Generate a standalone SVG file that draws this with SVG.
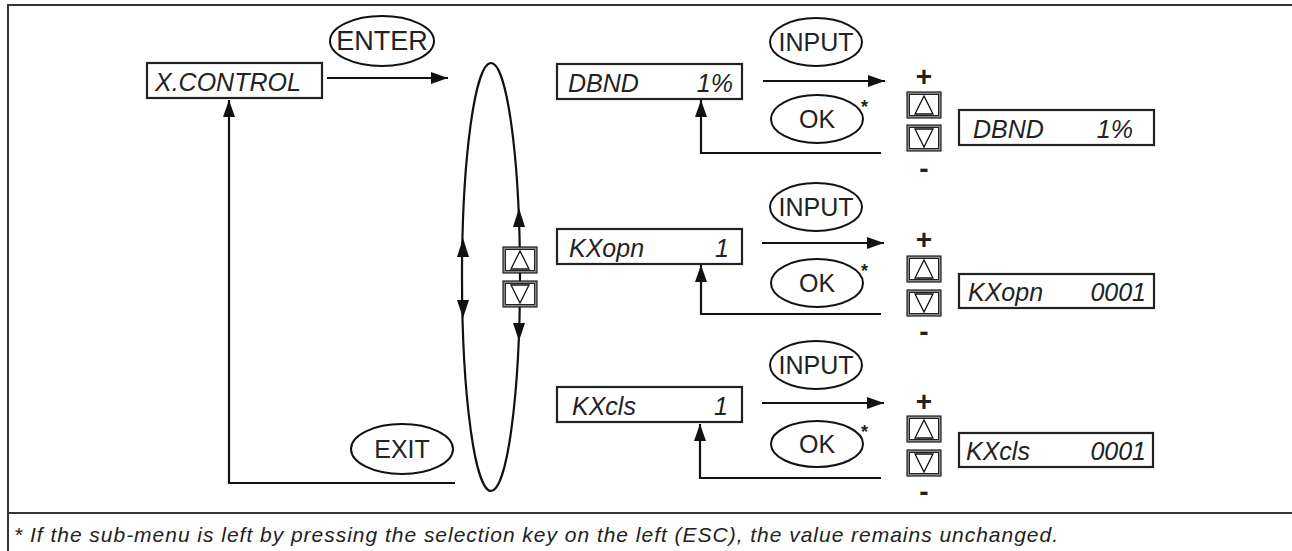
<svg xmlns="http://www.w3.org/2000/svg" width="1292" height="551" viewBox="0 0 1292 551">
<style>
  .frame{stroke:#333;stroke-width:2;fill:none}
  .box{fill:#fff;stroke:#222;stroke-width:2.2}
  .oval{fill:#fff;stroke:#111;stroke-width:2}
  .ln{fill:none;stroke:#111;stroke-width:2.2}
  .it{font-family:"Liberation Sans",Arial,sans-serif;font-style:italic;font-size:25px;fill:#222}
  .lbl{font-family:"Liberation Sans",Arial,sans-serif;font-size:25px;fill:#222;text-anchor:middle}
  .pm{font-family:"Liberation Sans",Arial,sans-serif;font-size:28px;font-weight:bold;fill:#222;text-anchor:middle}
  .ast{font-family:"Liberation Sans",Arial,sans-serif;font-size:18px;font-weight:bold;fill:#222}
  .foot{font-family:"Liberation Sans",Arial,sans-serif;font-style:italic;font-size:21px;fill:#222}
  .kout{fill:#8a8a8a;stroke:#222;stroke-width:1.2}
  .kin{fill:#fff;stroke:#222;stroke-width:1}
  .tri{fill:none;stroke:#111;stroke-width:1.3}
  .ah{fill:#111}
</style>
<defs>
  <marker id="arr" markerUnits="userSpaceOnUse" markerWidth="17" markerHeight="12" refX="17" refY="6" orient="auto">
    <path d="M0,0 L17,6 L0,12 z" fill="#111"/>
  </marker>
  <g id="kUp">
    <rect class="kout" x="0" y="0" width="34" height="26"/>
    <rect class="kin" x="2.5" y="2.5" width="29" height="21"/>
    <path class="tri" d="M17,4 L8,22 L26,22 z"/>
  </g>
  <g id="kDn">
    <rect class="kout" x="0" y="0" width="34" height="26"/>
    <rect class="kin" x="2.5" y="2.5" width="29" height="21"/>
    <path class="tri" d="M8,4 L26,4 L17,22 z"/>
  </g>
</defs>
<rect width="1292" height="551" fill="#fff"/>
<g id="frame">
  <path class="frame" d="M8,551 L8,5 L1292,5"/>
  <path class="frame" d="M8,513 L1292,513"/>
</g>

<g id="connectors">
  <line class="ln" x1="327" y1="78" x2="448" y2="78" marker-end="url(#arr)"/>
  <polyline class="ln" points="455,483 229,483 229,100" marker-end="url(#arr)"/>
  <ellipse class="ln" cx="491" cy="277" rx="29" ry="214"/>
  <polygon class="ah" points="463,238 457,257 469,257"/>
  <polygon class="ah" points="463,318 457,300 469,300"/>
  <polygon class="ah" points="519,208 513,227 525,227"/>
  <polygon class="ah" points="519,341 513,323 525,323"/>
  <line class="ln" x1="763" y1="81" x2="885" y2="81" marker-end="url(#arr)"/>
  <polyline class="ln" points="881,153 701,153 701,100" marker-end="url(#arr)"/>
  <line class="ln" x1="762" y1="243" x2="884" y2="243" marker-end="url(#arr)"/>
  <polyline class="ln" points="881,314 701,314 701,265" marker-end="url(#arr)"/>
  <line class="ln" x1="762" y1="403" x2="884" y2="403" marker-end="url(#arr)"/>
  <polyline class="ln" points="881,478 700,478 700,424" marker-end="url(#arr)"/>
</g>

<g id="xcontrol">
  <rect class="box" x="147" y="63" width="175" height="35"/>
  <text class="it" x="155" y="91">X.CONTROL</text>
</g>
<g id="enter">
  <ellipse class="oval" cx="382" cy="41" rx="52" ry="25"/>
  <text class="lbl" x="382" y="50" style="font-size:27px">ENTER</text>
</g>
<g id="exit">
  <ellipse class="oval" cx="402" cy="449" rx="51" ry="25"/>
  <text class="lbl" x="402" y="458">EXIT</text>
</g>
<g id="nav-keys">
  <use href="#kUp" x="503" y="247"/>
  <use href="#kDn" x="503" y="281"/>
</g>

<!-- row 1 -->
<g id="dbnd">
  <rect class="box" x="557" y="64" width="185" height="35"/>
  <text class="it" x="568" y="92">DBND</text>
  <text class="it" x="733" y="92" text-anchor="end">1%</text>
</g>
<g id="input1">
  <ellipse class="oval" cx="816" cy="42" rx="46" ry="24"/>
  <text class="lbl" x="816" y="51">INPUT</text>
</g>
<g id="ok1">
  <ellipse class="oval" cx="817" cy="119" rx="46" ry="24"/>
  <text class="lbl" x="817" y="128">OK</text>
  <text class="ast" x="861" y="113">*</text>
</g>
<g id="keys1">
  <text class="pm" x="924" y="86">+</text>
  <use href="#kUp" x="907" y="92"/>
  <use href="#kDn" x="907" y="125"/>
  <text class="pm" x="924" y="178">-</text>
</g>
<g id="dbnd-edit">
  <rect class="box" x="959" y="110" width="195" height="35"/>
  <text class="it" x="973" y="138">DBND</text>
  <text class="it" x="1133" y="138" text-anchor="end">1%</text>
</g>

<!-- row 2 -->
<g id="kxopn">
  <rect class="box" x="557" y="229" width="185" height="35"/>
  <text class="it" x="569" y="257">KXopn</text>
  <text class="it" x="729" y="257" text-anchor="end">1</text>
</g>
<g id="input2">
  <ellipse class="oval" cx="816" cy="207" rx="46" ry="24"/>
  <text class="lbl" x="816" y="216">INPUT</text>
</g>
<g id="ok2">
  <ellipse class="oval" cx="817" cy="283" rx="46" ry="24"/>
  <text class="lbl" x="817" y="292">OK</text>
  <text class="ast" x="861" y="277">*</text>
</g>
<g id="keys2">
  <text class="pm" x="924" y="249">+</text>
  <use href="#kUp" x="907" y="256"/>
  <use href="#kDn" x="907" y="290"/>
  <text class="pm" x="924" y="341">-</text>
</g>
<g id="kxopn-edit">
  <rect class="box" x="959" y="274" width="195" height="34"/>
  <text class="it" x="968" y="301">KXopn</text>
  <text class="it" x="1146" y="301" text-anchor="end">0001</text>
</g>

<!-- row 3 -->
<g id="kxcls">
  <rect class="box" x="557" y="387" width="185" height="35"/>
  <text class="it" x="572" y="415">KXcls</text>
  <text class="it" x="728" y="415" text-anchor="end">1</text>
</g>
<g id="input3">
  <ellipse class="oval" cx="816" cy="365" rx="46" ry="24"/>
  <text class="lbl" x="816" y="374">INPUT</text>
</g>
<g id="ok3">
  <ellipse class="oval" cx="817" cy="444" rx="46" ry="23"/>
  <text class="lbl" x="817" y="453">OK</text>
  <text class="ast" x="861" y="438">*</text>
</g>
<g id="keys3">
  <text class="pm" x="924" y="411">+</text>
  <use href="#kUp" x="907" y="416"/>
  <use href="#kDn" x="907" y="450"/>
  <text class="pm" x="924" y="501">-</text>
</g>
<g id="kxcls-edit">
  <rect class="box" x="959" y="433" width="194" height="34"/>
  <text class="it" x="966" y="460">KXcls</text>
  <text class="it" x="1146" y="460" text-anchor="end">0001</text>
</g>

<g id="footnote">
  <text class="foot" x="14" y="542" textLength="1044" lengthAdjust="spacing">* If the sub-menu is left by pressing the selection key on the left (ESC), the value remains unchanged.</text>
</g>
</svg>
